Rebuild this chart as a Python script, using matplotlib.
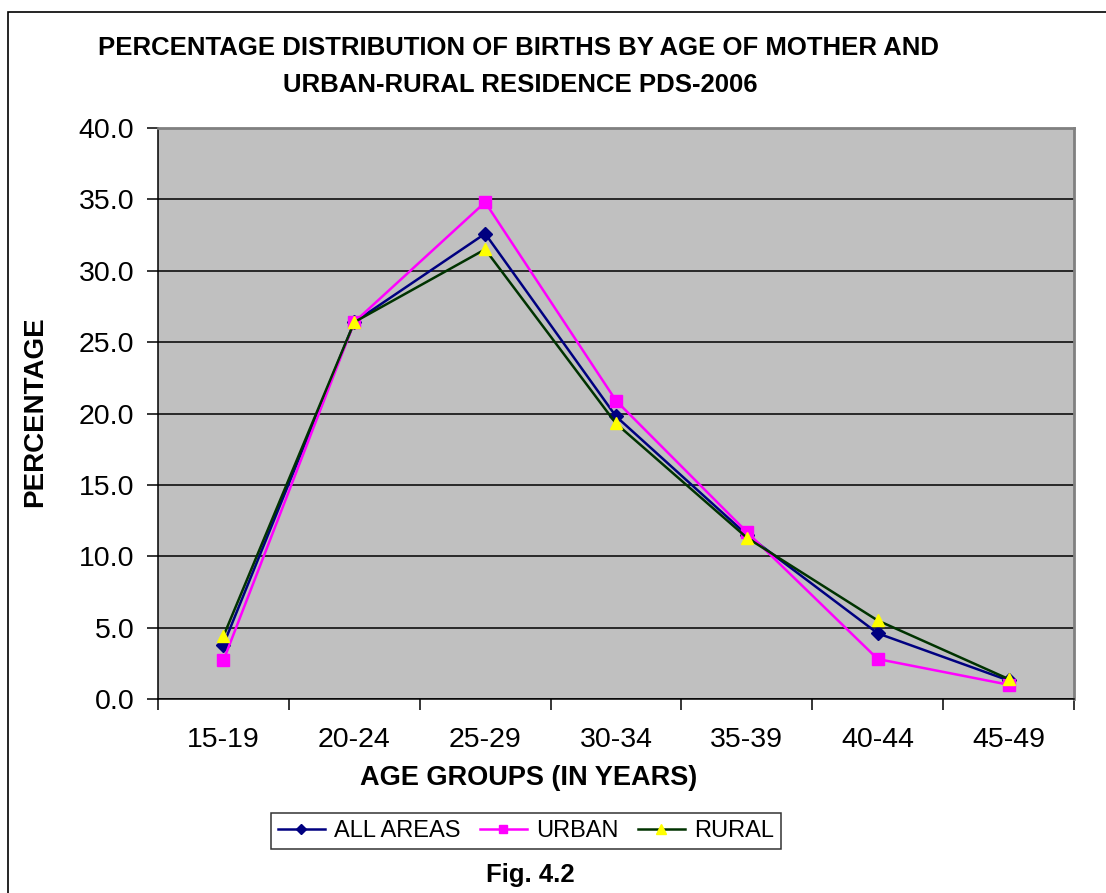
import numpy as np
import matplotlib
matplotlib.use("Agg")
from matplotlib import pyplot as plt
from matplotlib.patches import Rectangle

plt.rcParams["font.family"] = ["Liberation Sans", "DejaVu Sans"]

age_groups = ["15-19", "20-24", "25-29", "30-34", "35-39", "40-44", "45-49"]
all_areas = [3.8, 26.4, 32.6, 19.8, 11.5, 4.6, 1.3]
urban = [2.7, 26.4, 34.8, 20.9, 11.7, 2.8, 1.0]
rural = [4.4, 26.4, 31.5, 19.3, 11.3, 5.5, 1.4]

fig = plt.figure(figsize=(11.06, 8.93), dpi=100)
ax = fig.add_axes([158 / 1106, 1 - 699 / 893, 916 / 1106, 571 / 893])
ax.set_facecolor("#C0C0C0")

# outer chart border (runs off the right and bottom of the picture)
fig.patches.append(Rectangle((8 / 1106, -0.05), 1.1, 1 - 12 / 893 + 0.05,
                             transform=fig.transFigure, fill=False,
                             edgecolor="black", linewidth=1.2))

x = np.arange(len(age_groups)) + 0.5
ax.plot(x, all_areas, color="#000080", marker="D", markersize=7, linewidth=1.8,
        label="ALL AREAS", zorder=3)
ax.plot(x, urban, color="#FF00FF", marker="s", markersize=8, linewidth=1.8,
        label="URBAN", zorder=3)
ax.plot(x, rural, color="#003300", marker="^", markersize=9, linewidth=1.8,
        markerfacecolor="#FFFF00", markeredgecolor="#FFFF00", label="RURAL", zorder=4)

ax.set_xlim(0, len(age_groups))
ax.set_ylim(0, 40)
ax.set_yticks(np.arange(0, 40.1, 5))
ax.set_yticklabels(["%.1f" % v for v in np.arange(0, 40.1, 5)], fontsize=20.5)
ax.yaxis.grid(True, color="black", linewidth=1.1)
ax.set_axisbelow(True)

ax.set_xticks(np.arange(0, len(age_groups) + 1))
ax.set_xticklabels([])
ax.set_xticks(x, minor=True)
ax.set_xticklabels(age_groups, minor=True, fontsize=20.5)
ax.tick_params(axis="x", which="minor", length=0, pad=20)
ax.tick_params(axis="x", which="major", length=8, width=1.1, direction="out")
ax.tick_params(axis="y", length=8, width=1.1, direction="out", pad=9)

for s in ["top", "right"]:
    ax.spines[s].set_color("#808080")
    ax.spines[s].set_linewidth(2)
for s in ["left", "bottom"]:
    ax.spines[s].set_color("black")
    ax.spines[s].set_linewidth(1.1)

fig.text(518 / 1106, 1 - 48 / 893, "PERCENTAGE DISTRIBUTION OF BIRTHS BY AGE OF MOTHER AND",
         ha="center", va="center", fontsize=18.5, fontweight="bold")
fig.text(520 / 1106, 1 - 85 / 893, "URBAN-RURAL RESIDENCE PDS-2006",
         ha="center", va="center", fontsize=18.5, fontweight="bold")
fig.text(35 / 1106, 1 - 412 / 893, "PERCENTAGE", rotation=90, ha="center", va="center",
         fontsize=20, fontweight="bold")
fig.text(529 / 1106, 1 - 778 / 893, "AGE GROUPS (IN YEARS)", ha="center", va="center",
         fontsize=19.5, fontweight="bold")
fig.text(530 / 1106, 1 - 875 / 893, "Fig. 4.2", ha="center", va="center",
         fontsize=18.5, fontweight="bold")

leg = fig.legend(loc="center", bbox_to_anchor=(526 / 1106, 1 - 831 / 893), ncol=3,
                 fontsize=17, frameon=True, fancybox=False, edgecolor="black",
                 handlelength=2.0, handletextpad=0.4, columnspacing=0.8,
                 borderpad=0.3, borderaxespad=0, markerscale=0.75)
leg.get_frame().set_linewidth(1.1)

fig.savefig("out.png", dpi=100)
